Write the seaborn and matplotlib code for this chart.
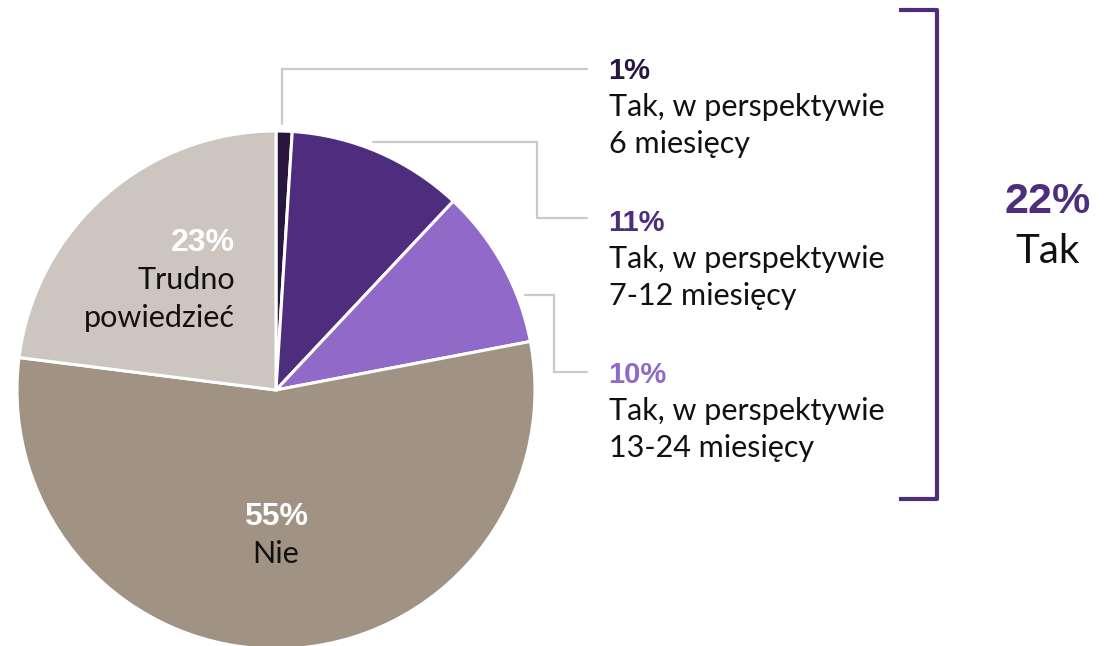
import matplotlib.pyplot as plt
import seaborn as sns

sns.set_theme(style="white")
plt.rcParams["font.family"] = ["Lato", "DejaVu Sans"]

# data
shares = [1, 11, 10, 55, 23]
pct_labels = ["1%", "11%", "10%", "55%", "23%"]
names = [
    "Tak, w perspektywie\n6 miesięcy",
    "Tak, w perspektywie\n7-12 miesięcy",
    "Tak, w perspektywie\n13-24 miesięcy",
    "Nie",
    "Trudno\npowiedzieć",
]
colors = sns.color_palette(["#28163f", "#4e2d7e", "#9169c8", "#a09384", "#cdc5bf"])
tak_total = sum(shares[:3])

PURPLE = "#4e2d7e"
LEADER = "#d0c8c2"
BOLD = ["Liberation Sans", "DejaVu Sans"]
BODY_FS = 22
PCT_FS = 21

fig = plt.figure(figsize=(11.17, 6.46), dpi=100)
ax = fig.add_axes([0, 0, 1, 1])

# pixel coordinates, y measured from the top
cx, cy, r = 276, 390, 259
ax.pie(shares, colors=colors, startangle=-90, counterclock=True,
       center=(cx, cy), radius=r, frame=True,
       wedgeprops=dict(edgecolor="white", linewidth=2.2))
ax.set_xlim(0, 1117)
ax.set_ylim(646, 0)
ax.set_aspect("auto")
ax.axis("off")

# leader lines
leaders = [
    ([282, 282, 587], [124, 69, 69]),
    ([373, 537, 537, 587], [142, 142, 218, 218]),
    ([525, 554, 554, 587], [295, 295, 372, 372]),
]
for xs, ys in leaders:
    ax.plot(xs, ys, color=LEADER, linewidth=1.6, solid_joinstyle="miter")

# right-hand labels
block_y = [79, 231, 383]
for i in range(3):
    y0 = block_y[i]
    ax.text(608, y0, pct_labels[i], color=colors[i], fontsize=PCT_FS,
            fontweight="bold", family=BOLD, va="baseline", ha="left")
    line1, line2 = names[i].split("\n")
    ax.text(609, y0 + 37, line1, color="#111111", fontsize=BODY_FS,
            va="baseline", ha="left")
    ax.text(609, y0 + 74, line2, color="#111111", fontsize=BODY_FS,
            va="baseline", ha="left")

# labels inside the pie
ax.text(276, 525, pct_labels[3], color="white", fontsize=23, fontweight="bold",
        family=BOLD, va="baseline", ha="center")
ax.text(276, 563, names[3], color="#111111", fontsize=BODY_FS, va="baseline", ha="center")

ax.text(235, 251, pct_labels[4], color="white", fontsize=23, fontweight="bold",
        family=BOLD, va="baseline", ha="right")
tr1, tr2 = names[4].split("\n")
ax.text(235, 289, tr1, color="#111111", fontsize=BODY_FS, va="baseline", ha="right")
ax.text(235, 327, tr2, color="#111111", fontsize=BODY_FS, va="baseline", ha="right")

# bracket for the "Tak" group
ax.plot([899, 937, 937, 899], [10, 10, 499, 499], color=PURPLE, linewidth=3,
        solid_joinstyle="round", solid_capstyle="butt")
ax.text(1048, 213, f"{tak_total}%", color=PURPLE, fontsize=31, fontweight="bold",
        family=BOLD, va="baseline", ha="center")
ax.text(1048, 263, "Tak", color="#111111", fontsize=29, va="baseline", ha="center")

fig.savefig("out.png", dpi=100)
